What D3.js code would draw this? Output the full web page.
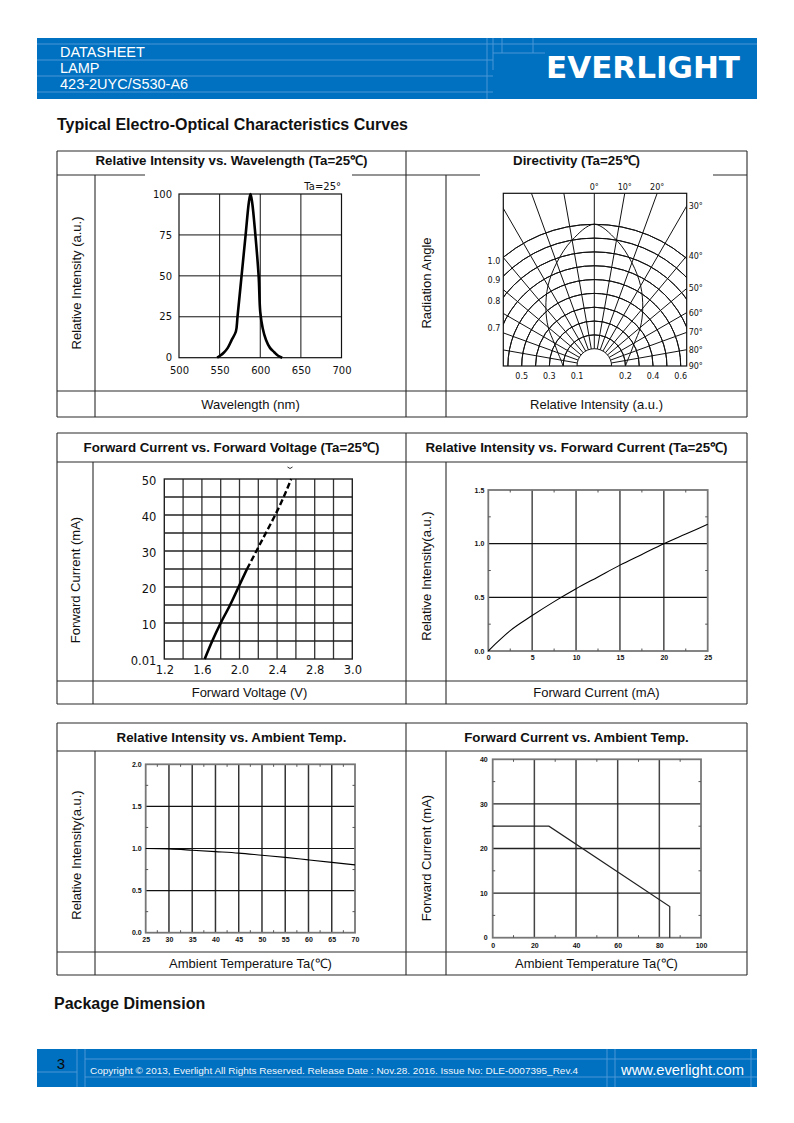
<!DOCTYPE html>
<html><head><meta charset="utf-8">
<script src="https://cdn.jsdelivr.net/npm/d3@7"></script>
<style>body{margin:0;background:#fff}svg{display:block}</style>
</head><body><svg id="page" width="794" height="1123"></svg>
<script>
// ---------------- data ----------------
const headerLines = ["DATASHEET", "LAMP", "423-2UYC/S530-A6"];
const logoText = "EVERLIGHT";
const sectionTitle = "Typical Electro-Optical Characteristics Curves";
const packageTitle = "Package Dimension";
const footerPage = "3";
const footerCopyright = "Copyright © 2013, Everlight All Rights Reserved. Release Date : Nov.28. 2016. Issue No: DLE-0007395_Rev.4";
const footerUrl = "www.everlight.com";

const panelTitles = ["Relative Intensity vs. Wavelength (Ta=25℃)", "Directivity (Ta=25℃)",
  "Forward Current vs. Forward Voltage (Ta=25℃)", "Relative Intensity vs. Forward Current (Ta=25℃)",
  "Relative Intensity vs. Ambient Temp.", "Forward Current vs. Ambient Temp."];
const yAxisTitles = ["Relative Intensity (a.u.)", "Radiation Angle", "Forward Current (mA)",
  "Relative Intensity(a.u.)", "Relative Intensity(a.u.)", "Forward Current (mA)"];
const xAxisTitles = ["Wavelength (nm)", "Relative Intensity (a.u.)", "Forward Voltage (V)",
  "Forward Current (mA)", "Ambient Temperature Ta(℃)", "Ambient Temperature Ta(℃)"];

// 1. spectrum
const wavelength  = [547, 550, 555, 560, 565, 570, 572, 577, 582, 586, 588, 590, 594, 598, 600, 603, 607, 612, 617, 622, 627];
const wlIntensity = [0, 1, 3, 6, 11, 16, 25, 50, 75, 95, 100, 95, 75, 50, 28, 18, 11, 6, 3.5, 1.2, 0];
const wlXTicks = [500, 550, 600, 650, 700];
const wlYTicks = [0, 25, 50, 75, 100];
const wlNote = "Ta=25°";

// 2. directivity
const dirAngles    = [-90, -80, -70, -60, -50, -40, -30, -20, -10, 0, 10, 20, 30, 40, 50, 60, 70, 80, 90];
const dirIntensity = [0.2, 0.22, 0.255, 0.31, 0.41, 0.52, 0.645, 0.77, 0.9, 1.0, 0.9, 0.77, 0.645, 0.52, 0.41, 0.31, 0.255, 0.22, 0.2];
const dirArcLevels = [0.2, 0.3, 0.4, 0.5, 0.6, 0.7, 0.8, 0.9, 1.0];
const dirSpokes    = [-80, -70, -60, -50, -40, -30, -20, -10, 0, 10, 20, 30, 40, 50, 60, 70, 80];
const dirTopAngles = [0, 10, 20];
const dirTopLabels = ["0°", "10°", "20°"];
const dirRightAngles = [30, 40, 50, 60, 70, 80, 90];
const dirRightLabels = ["30°", "40°", "50°", "60°", "70°", "80°", "90°"];
const dirLeftLevels = [1.0, 0.9, 0.8, 0.7];
const dirLeftLabels = ["1.0", "0.9", "0.8", "0.7"];
const dirBottomLevels = [-0.5, -0.3, -0.1, 0.2, 0.4, 0.6];
const dirBottomLabels = ["0.5", "0.3", "0.1", "0.2", "0.4", "0.6"];

// 3. forward current vs forward voltage
const fvVoltSolid     = [1.63, 1.71, 1.80, 1.90, 1.99, 2.08];
const fvCurrentSolid  = [0, 5, 10, 15, 20, 25];
const fvVoltDashed    = [2.08, 2.18, 2.28, 2.38, 2.47, 2.55];
const fvCurrentDashed = [25, 30, 35, 40, 45, 50];
const fvXTicks  = [1.2, 1.6, 2.0, 2.4, 2.8, 3.2];
const fvXLabels = ["1.2", "1.6", "2.0", "2.4", "2.8", "3.0"];
const fvYTicks  = [0, 10, 20, 30, 40, 50];
const fvYLabels = ["0.01", "10", "20", "30", "40", "50"];

// 4. relative intensity vs forward current
const ifCurrent   = [0, 1, 2.5, 5, 7.5, 10, 12.5, 15, 17.5, 20, 22.5, 25];
const ifIntensity = [0, 0.08, 0.19, 0.33, 0.46, 0.58, 0.69, 0.8, 0.9, 1.0, 1.09, 1.18];
const ifXTicks = [0, 5, 10, 15, 20, 25];
const ifYTicks = [0, 0.5, 1.0, 1.5];

// 5. relative intensity vs ambient temp
const taTemp      = [25, 30, 35, 40, 45, 50, 55, 60, 65, 70];
const taIntensity = [1.0, 0.995, 0.98, 0.963, 0.945, 0.92, 0.895, 0.865, 0.835, 0.805];
const taXTicks = [25, 30, 35, 40, 45, 50, 55, 60, 65, 70];
const taYTicks = [0, 0.5, 1.0, 1.5, 2.0];

// 6. derating
const derTemp    = [0, 27, 85, 85];
const derCurrent = [25, 25, 7, 0];
const derXTicks = [0, 20, 40, 60, 80, 100];
const derYTicks = [0, 10, 20, 30, 40];

// ---------------- drawing ----------------
const svg = d3.select("#page");
const SANS = '"Liberation Sans", Arial, Helvetica, sans-serif';
const PIX = '"DejaVu Sans", sans-serif';
const BLUE = "#0070c0", LIGHT = "#4a96d8", LINE = "#2a2a2a";

function line(g, x1, y1, x2, y2, stroke, w) {
  return g.append("line").attr("x1", x1).attr("y1", y1).attr("x2", x2).attr("y2", y2)
    .attr("stroke", stroke).attr("stroke-width", w);
}
function text(g, x, y, s, size, opts = {}) {
  return g.append("text").attr("x", x).attr("y", y).text(s)
    .attr("font-family", opts.family || SANS).attr("font-size", size)
    .attr("font-weight", opts.weight || "normal").attr("fill", opts.fill || "#111")
    .attr("text-anchor", opts.anchor || "start");
}

// header
const hdr = svg.append("g");
hdr.append("rect").attr("x", 37).attr("y", 38).attr("width", 720).attr("height", 61).attr("fill", BLUE);
[44, 60, 76, 92].forEach(y => line(hdr, 37, y, 493, y, LIGHT, 1));
line(hdr, 487, 38, 487, 99, LIGHT, 1);
line(hdr, 493, 38, 493, 70, LIGHT, 1);
line(hdr, 493, 44, 757, 44, LIGHT, 1);
line(hdr, 493, 53, 545, 53, LIGHT, 1);
line(hdr, 502, 38, 502, 53, LIGHT, 1);
line(hdr, 533, 38, 533, 53, LIGHT, 1);
headerLines.forEach((s, i) => text(hdr, 60, 57 + i * 16, s, 14.5, { fill: "#fff" }));
text(hdr, 546, 77.5, logoText, 30, { family: PIX, weight: "bold", fill: "#fff" })
  .attr("textLength", 194).attr("lengthAdjust", "spacingAndGlyphs");

text(svg, 57, 130, sectionTitle, 16, { weight: "bold" });
text(svg, 54, 1009, packageTitle, 16, { weight: "bold" });

// footer
const ft = svg.append("g");
ft.append("rect").attr("x", 37).attr("y", 1049).attr("width", 720).attr("height", 38).attr("fill", BLUE);
line(ft, 85, 1059, 757, 1059, LIGHT, 1);
line(ft, 85, 1077, 757, 1077, LIGHT, 1);
line(ft, 37, 1072, 77, 1072, LIGHT, 1);
[77, 85, 607, 615, 751].forEach(x => line(ft, x, 1049, x, 1087, LIGHT, 1));
text(ft, 61, 1069, footerPage, 15, { anchor: "middle", fill: "#0a0a0a" });
text(ft, 90, 1074, footerCopyright, 9, { fill: "#f2f6fb" }).attr("textLength", 488).attr("lengthAdjust", "spacingAndGlyphs");
text(ft, 621, 1075, footerUrl, 15, { fill: "#fff" }).attr("textLength", 123).attr("lengthAdjust", "spacingAndGlyphs");

// tables
const COLS = { L: 57, M: 406, c2: 446, R: 747 };
const tables = [
  { top: 151, hdr: 175, row: 391, bot: 417, c1: 95, hy: 165, yl: [283, 283] },
  { top: 433, hdr: 462, row: 681, bot: 704, c1: 93, hy: 452, yl: [580, 576] },
  { top: 723, hdr: 751, row: 952, bot: 975, c1: 95, hy: 742, yl: [855, 858] }
];
tables.forEach((t, ti) => {
  const g = svg.append("g");
  [t.top, t.hdr, t.row, t.bot].forEach(y => line(g, COLS.L, y, COLS.R, y, LINE, 1.1));
  [COLS.L, COLS.M, COLS.R].forEach(x => line(g, x, t.top, x, t.bot, LINE, 1.1));
  [t.c1, COLS.c2].forEach(x => line(g, x, t.hdr, x, t.bot, LINE, 1.1));
  const xy = (t.row + t.bot) / 2 + 4.5;
  text(g, (COLS.L + COLS.M) / 2, t.hy, panelTitles[ti * 2], 13.3, { weight: "bold", anchor: "middle" });
  text(g, (COLS.M + COLS.R) / 2, t.hy, panelTitles[ti * 2 + 1], 13.3, { weight: "bold", anchor: "middle" });
  text(g, (t.c1 + COLS.M) / 2, xy, xAxisTitles[ti * 2], 13, { anchor: "middle" });
  text(g, (COLS.c2 + COLS.R) / 2, xy, xAxisTitles[ti * 2 + 1], 13, { anchor: "middle" });
  [[(COLS.L + t.c1) / 2 + 0.5, t.yl[0], yAxisTitles[ti * 2]], [(COLS.M + COLS.c2) / 2 + 0.5, t.yl[1], yAxisTitles[ti * 2 + 1]]]
    .forEach(([x, y, s]) => g.append("text").attr("transform", `translate(${x},${y}) rotate(-90)`)
      .attr("text-anchor", "middle").attr("dy", "0.35em").attr("font-family", SANS).attr("font-size", 13)
      .attr("fill", "#111").text(s));
});
// white picture edges covering the cell border in the first table
svg.append("rect").attr("x", 145).attr("y", 173.5).attr("width", 207).attr("height", 3).attr("fill", "#fff");
svg.append("rect").attr("x", 480).attr("y", 173.5).attr("width", 233).attr("height", 3).attr("fill", "#fff");

// generic grid chart helpers
function gridFrame(g, x, y, xs, ys, vStyle, hStyle, fStyle) {
  const [x0, x1] = x.range(), [y0, y1] = y.range();
  g.selectAll(null).data(xs).join("line")
    .attr("x1", d => x(d)).attr("x2", d => x(d)).attr("y1", y0).attr("y2", y1)
    .attr("stroke", vStyle[0]).attr("stroke-width", vStyle[1]);
  g.selectAll(null).data(ys).join("line")
    .attr("y1", d => y(d)).attr("y2", d => y(d)).attr("x1", x0).attr("x2", x1)
    .attr("stroke", hStyle[0]).attr("stroke-width", hStyle[1]);
  g.append("rect").attr("x", x0).attr("y", y1).attr("width", x1 - x0).attr("height", y0 - y1)
    .attr("fill", "none").attr("stroke", fStyle[0]).attr("stroke-width", fStyle[1]);
}
function axes(g, x, y, xt, xl, yt, yl, font, size, weight, xPad, yPad) {
  const ax = g.append("g").attr("transform", `translate(0,${y.range()[0]})`)
    .call(d3.axisBottom(x).tickValues(xt).tickSize(0).tickPadding(xPad).tickFormat((d, i) => xl[i]));
  const ay = g.append("g").attr("transform", `translate(${x.range()[0]},0)`)
    .call(d3.axisLeft(y).tickValues(yt).tickSize(0).tickPadding(yPad).tickFormat((d, i) => yl[i]));
  [ax, ay].forEach(a => {
    a.select(".domain").remove();
    a.attr("font-family", font).attr("font-size", size).attr("font-weight", weight);
    a.selectAll("text").attr("fill", "#111");
  });
  return [ax, ay];
}
function minorTicks(g, x, y, xm, ym, len) {
  const [x0, x1] = x.range(), [y0, y1] = y.range();
  xm.forEach(v => { line(g, x(v), y0, x(v), y0 - len, "#555", 1); line(g, x(v), y1, x(v), y1 + len, "#555", 1); });
  ym.forEach(v => { line(g, x0, y(v), x0 + len, y(v), "#555", 1); line(g, x1, y(v), x1 - len, y(v), "#555", 1); });
}
const fmt = a => a.map(v => String(v));
const fmt1 = a => a.map(v => v.toFixed(1));

// ---- chart 1: spectrum
{
  const g = svg.append("g");
  const x = d3.scaleLinear().domain([500, 700]).range([179, 341.5]);
  const y = d3.scaleLinear().domain([0, 100]).range([357.7, 194]);
  gridFrame(g, x, y, [550, 600, 650], [25, 50, 75], ["#111", 1], ["#111", 1], ["#111", 1.2]);
  axes(g, x, y, wlXTicks, fmt(wlXTicks), wlYTicks, fmt(wlYTicks), PIX, 10, "normal", 9, 7);
  text(g, 341, 190, wlNote, 10, { family: PIX, anchor: "end" });
  g.append("path").datum(wavelength.map((w, i) => [w, wlIntensity[i]]))
    .attr("d", d3.line().x(d => x(d[0])).y(d => y(d[1])).curve(d3.curveCatmullRom.alpha(0.5)))
    .attr("fill", "none").attr("stroke", "#000").attr("stroke-width", 2.6).attr("stroke-linejoin", "round");
}

// ---- chart 2: directivity
{
  const g = svg.append("g");
  const cx = 594.3, cy = 366, fx0 = 503.3, fx1 = 686.7, fy0 = 193.3;
  const r = d3.scaleLinear().domain([0.1, 1]).range([17.3, 141.7]);
  const rad = d => d * Math.PI / 180;
  svg.append("clipPath").attr("id", "dirclip").append("rect")
    .attr("x", fx0).attr("y", fy0).attr("width", fx1 - fx0).attr("height", cy - fy0);
  const inner = g.append("g").attr("clip-path", "url(#dirclip)");
  const arc = d3.arc().startAngle(-Math.PI / 2).endAngle(Math.PI / 2);
  inner.selectAll(null).data(dirArcLevels).join("path")
    .attr("transform", `translate(${cx},${cy})`)
    .attr("d", d => arc({ innerRadius: r(d), outerRadius: r(d) }))
    .attr("fill", "none").attr("stroke", "#111").attr("stroke-width", 1);
  inner.append("path").attr("transform", `translate(${cx},${cy})`)
    .attr("d", arc({ innerRadius: 0, outerRadius: r(0.1) }))
    .attr("fill", "#fff").attr("stroke", "#111").attr("stroke-width", 1);
  inner.selectAll(null).data(dirSpokes).join("line")
    .attr("x1", d => cx + r(0.1) * Math.sin(rad(d))).attr("y1", d => cy - r(0.1) * Math.cos(rad(d)))
    .attr("x2", d => cx + 400 * Math.sin(rad(d))).attr("y2", d => cy - 400 * Math.cos(rad(d)))
    .attr("stroke", "#111").attr("stroke-width", 1);
  inner.append("path").datum(dirAngles.map((a, i) => [a, dirIntensity[i]]))
    .attr("transform", `translate(${cx},${cy})`)
    .attr("d", d3.lineRadial().angle(d => rad(d[0])).radius(d => r(d[1])).curve(d3.curveCatmullRom))
    .attr("fill", "none").attr("stroke", "#111").attr("stroke-width", 1);
  g.append("rect").attr("x", fx0).attr("y", fy0).attr("width", fx1 - fx0).attr("height", cy - fy0)
    .attr("fill", "none").attr("stroke", "#111").attr("stroke-width", 1.2);
  const LS = 8;
  dirTopAngles.forEach((a, i) => text(g, cx + (cy - fy0) * Math.tan(rad(a)), 189.5, dirTopLabels[i], LS, { family: PIX, anchor: "middle" }));
  dirRightAngles.forEach((a, i) => {
    const yy = a === 90 ? cy : cy - (fx1 - cx) / Math.tan(rad(a));
    text(g, fx1 + 2, yy + 3, dirRightLabels[i], LS, { family: PIX });
  });
  dirLeftLevels.forEach((v, i) => {
    const yy = cy - Math.sqrt(r(v) ** 2 - (cx - fx0) ** 2);
    text(g, fx0 - 3, yy + 7, dirLeftLabels[i], LS, { family: PIX, anchor: "end" });
  });
  dirBottomLevels.forEach((v, i) => text(g, cx + Math.sign(v) * r(Math.abs(v)), 379, dirBottomLabels[i], LS, { family: PIX, anchor: "middle" }));
}

// ---- chart 3: forward current vs forward voltage
{
  const g = svg.append("g");
  const x = d3.scaleLinear().domain([1.2, 3.2]).range([164.3, 352.3]);
  const y = d3.scaleLinear().domain([0, 50]).range([659, 479]);
  gridFrame(g, x, y, d3.range(1.4, 3.1, 0.2), d3.range(5, 50, 5), ["#333", 1.3], ["#222", 1.3], ["#222", 1.4]);
  const [ax, ay] = axes(g, x, y, fvXTicks, fvXLabels, fvYTicks, fvYLabels, PIX, 11.5, "normal", 7, 8);
  ay.selectAll("text").attr("dy", "0.45em");
  const ln = d3.line().x(d => x(d[0])).y(d => y(d[1])).curve(d3.curveMonotoneY);
  g.append("path").datum(fvVoltSolid.map((v, i) => [v, fvCurrentSolid[i]])).attr("d", ln)
    .attr("fill", "none").attr("stroke", "#000").attr("stroke-width", 2.6);
  g.append("path").datum(fvVoltDashed.map((v, i) => [v, fvCurrentDashed[i]])).attr("d", ln)
    .attr("fill", "none").attr("stroke", "#000").attr("stroke-width", 2.4).attr("stroke-dasharray", "6,3");
  g.append("path").attr("d", "M287.5,467 Q290,470 292.5,467").attr("fill", "none").attr("stroke", "#333").attr("stroke-width", 1);
}

// ---- chart 4: relative intensity vs forward current
{
  const g = svg.append("g");
  const x = d3.scaleLinear().domain([0, 25]).range([488.3, 707.7]);
  const y = d3.scaleLinear().domain([0, 1.5]).range([651, 490]);
  gridFrame(g, x, y, [5, 10, 15, 20], [0.5, 1.0], ["#555", 1.6], ["#111", 1.1], ["#777", 1.8]);
  minorTicks(g, x, y, [2.5, 7.5, 12.5, 17.5, 22.5], [0.25, 0.75, 1.25], 2.5);
  axes(g, x, y, ifXTicks, fmt(ifXTicks), ifYTicks, fmt1(ifYTicks), SANS, 7, "bold", 4, 4);
  g.append("path").datum(ifCurrent.map((v, i) => [v, ifIntensity[i]]))
    .attr("d", d3.line().x(d => x(d[0])).y(d => y(d[1])).curve(d3.curveMonotoneX))
    .attr("fill", "none").attr("stroke", "#000").attr("stroke-width", 1.1);
}

// ---- chart 5: relative intensity vs ambient temp
{
  const g = svg.append("g");
  const x = d3.scaleLinear().domain([25, 70]).range([145.7, 355]);
  const y = d3.scaleLinear().domain([0, 2]).range([932.7, 764.3]);
  gridFrame(g, x, y, d3.range(30, 70, 5), [0.5, 1.0, 1.5], ["#333", 1.5], ["#111", 1.1], ["#777", 1.8]);
  minorTicks(g, x, y, d3.range(27.5, 70, 5), [0.25, 0.75, 1.25, 1.75], 2.5);
  axes(g, x, y, taXTicks, fmt(taXTicks), taYTicks, fmt1(taYTicks), SANS, 7, "bold", 4, 4);
  g.append("path").datum(taTemp.map((v, i) => [v, taIntensity[i]]))
    .attr("d", d3.line().x(d => x(d[0])).y(d => y(d[1])).curve(d3.curveMonotoneX))
    .attr("fill", "none").attr("stroke", "#000").attr("stroke-width", 1.1);
}

// ---- chart 6: derating
{
  const g = svg.append("g");
  const x = d3.scaleLinear().domain([0, 100]).range([492.7, 701]);
  const y = d3.scaleLinear().domain([0, 40]).range([937.7, 759.3]);
  gridFrame(g, x, y, [20, 40, 60, 80], [10, 20, 30], ["#444", 1.5], ["#222", 1.3], ["#777", 1.8]);
  minorTicks(g, x, y, [10, 30, 50, 70, 90], [5, 15, 25, 35], 2.5);
  axes(g, x, y, derXTicks, fmt(derXTicks), derYTicks, fmt(derYTicks), SANS, 7, "bold", 5, 5);
  g.append("path").datum(derTemp.map((v, i) => [v, derCurrent[i]]))
    .attr("d", d3.line().x(d => x(d[0])).y(d => y(d[1])))
    .attr("fill", "none").attr("stroke", "#222").attr("stroke-width", 1.2);
}
</script>
</body></html>
